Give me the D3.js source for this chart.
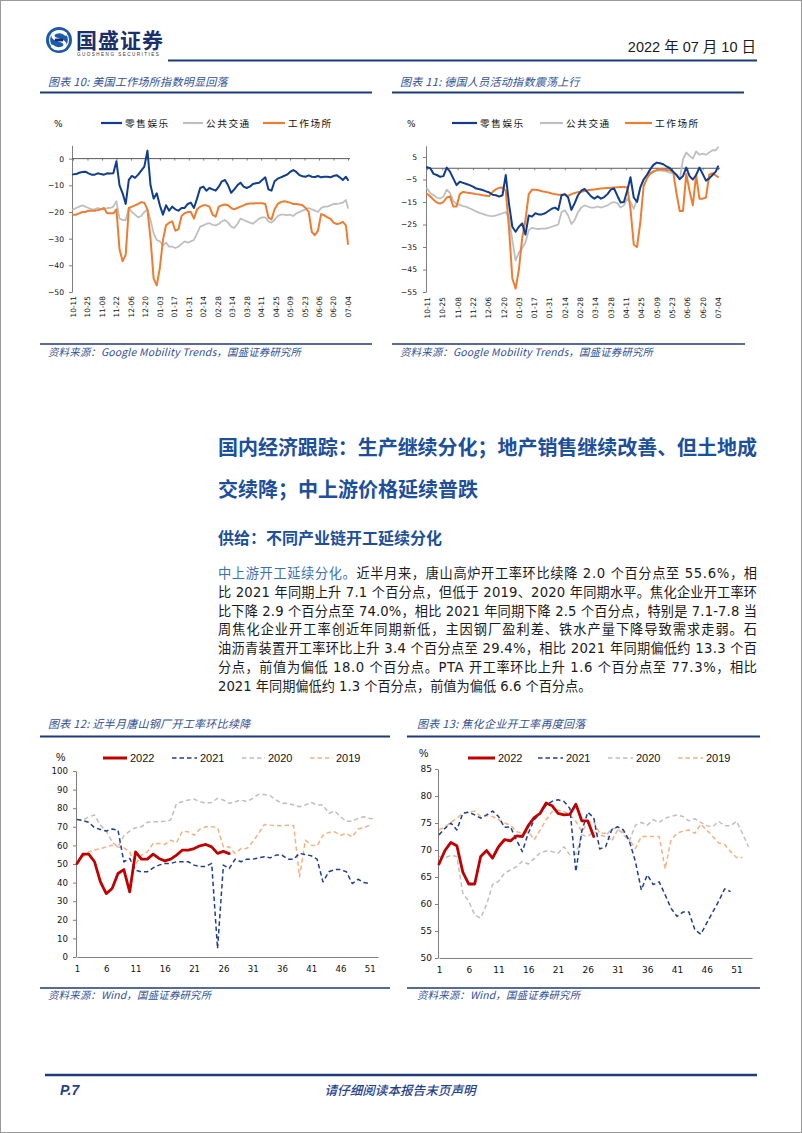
<!DOCTYPE html>
<html><head><meta charset="utf-8">
<script src="https://cdn.jsdelivr.net/npm/d3@7"></script>
<style>
html,body{margin:0;padding:0;background:#fff;}
svg{display:block;}
</style></head><body>
<svg id="page" width="802" height="1133"></svg>
<script>
// ---------------- DATA ----------------
// Google mobility (sampled every 3 days from 2021-10-11, last point 2022-07-04)
const mobilityDays = d3.range(0, 265, 3).concat([266]);
const mobilityTickLabels = ['10-11','10-25','11-08','11-22','12-06','12-20','01-03','01-17','01-31','02-14',
  '02-28','03-14','03-28','04-11','04-25','05-09','05-23','06-06','06-20','07-04'];
const mobilitySeriesNames = ['零售娱乐','公共交通','工作场所'];

const usRetail = [-5.9,-5.8,-5.3,-5.0,-4.9,-5.5,-6.0,-6.0,-5.5,-5.8,
  -6.0,-5.5,-5.6,-5.5,-1.0,-10.0,-13.0,-17.0,-8.0,-6.5,
  -7.2,-6.0,-4.5,-3.0,3.0,-10.0,-15.0,-13.0,-17.5,-21.0,
  -17.5,-19.5,-18.0,-19.0,-19.5,-18.5,-18.5,-17.0,-16.5,-18.5,
  -15.0,-11.0,-10.5,-12.0,-11.0,-11.5,-12.0,-10.5,-8.5,-8.0,
  -10.0,-12.8,-11.5,-10.0,-9.0,-10.5,-11.0,-10.5,-9.5,-9.2,
  -9.0,-8.0,-7.0,-11.5,-12.0,-8.5,-7.5,-7.0,-6.5,-6.0,
  -5.0,-4.3,-5.0,-6.2,-6.6,-6.8,-6.3,-6.8,-6.9,-6.5,
  -7.0,-6.8,-6.8,-7.0,-6.5,-6.2,-7.0,-8.0,-6.8,-8.0];
const usTransit = [-19,-18.5,-18,-17.5,-18,-18.5,-19,-19,-18.5,-19,
  -19,-18.5,-18.5,-18,-16,-22.5,-23,-23,-18.5,-20,
  -21,-22,-21.5,-20,-19,-23,-28,-30.5,-31,-32.5,
  -31.5,-33,-33,-33.5,-33,-32,-31,-31.5,-31,-30.5,
  -28,-25.5,-25,-24.5,-24.2,-24.8,-25,-24.5,-23.5,-23,
  -24,-25.5,-26,-24.5,-22.5,-23,-23.5,-24,-24.4,-23.5,
  -22.5,-22,-22,-23.5,-24,-23,-21.5,-21,-21,-21.2,
  -21,-21.5,-20.5,-20,-19.5,-19,-18.5,-19,-19.5,-20,
  -18.5,-18,-18,-17.5,-17,-17,-16.8,-16.5,-15.5,-18.5];
const usWork = [-21,-21,-20.5,-20,-20,-19.5,-19.5,-19.5,-19.3,-19,
  -18.5,-20.5,-20.5,-20.5,-19,-34,-38.5,-36,-18.5,-18,
  -17.5,-17,-16.3,-16.5,-19,-30,-45,-47.5,-41,-30.5,
  -25,-24,-23.5,-27,-26.5,-21.5,-20.5,-20,-20,-22.5,
  -19,-18,-17.5,-17.5,-18,-21,-21.8,-18,-17.5,-17.2,
  -17.5,-18.5,-19,-18.5,-18,-17.5,-17,-16.8,-16.8,-16.7,
  -16.7,-16.7,-17,-22,-22.8,-19,-17,-16.3,-16,-16.2,
  -16.5,-17,-17,-17.2,-17.5,-18.5,-20,-27.5,-28.7,-27,
  -20.8,-21.2,-22,-22.5,-24,-24.5,-24.3,-23.7,-25,-32];

const deRetail = [0.5,0.0,-2.5,-3.0,-3.8,-3.5,0.3,-1.5,-4.5,-7.5,
  -6.0,-6.5,-7.0,-7.5,-8.2,-9.0,-9.3,-9.7,-10.3,-10.8,
  -11.8,-12.0,-12.6,-12.0,-3.0,-16.0,-26.0,-28.2,-26.0,-24.5,
  -29.5,-21.0,-21.5,-20.0,-20.5,-20.5,-20.0,-19.0,-18.0,-17.5,
  -18.5,-12.0,-11.5,-13.0,-18.5,-15.5,-12.0,-10.0,-9.2,-10.8,
  -12.5,-13.5,-12.5,-13.5,-12.8,-11.5,-9.5,-9.0,-12.2,-15.2,
  -15.0,-10.0,-4.0,-13.0,-15.0,-8.5,-5.0,-3.0,-0.5,1.5,
  2.5,2.2,1.8,0.8,0.0,-1.5,-3.0,-4.8,-3.5,0.3,
  -3.5,-5.0,-3.0,0.3,-2.5,-5.5,-4.5,-3.0,-1.5,0.8];
const deTransit = [-9,-11,-12,-13,-13.5,-12.5,-9.5,-11,-14.5,-15.8,
  -16.3,-16.8,-17.2,-17.8,-18.5,-19.2,-19.8,-20.3,-20.8,-21.2,
  -21.3,-21.0,-20.5,-20,-19.5,-22,-32,-41,-37.5,-35.5,
  -33,-27.5,-26.5,-26.8,-27,-26.8,-26.8,-26.5,-26,-25.5,
  -25,-19.5,-18.7,-21,-24.8,-23,-19.5,-17.5,-16.5,-17,
  -17.5,-17.5,-17,-17.5,-17,-16.5,-15.5,-15,-15.5,-17.5,
  -16.5,-13.5,-15,-18,-14,-8.5,-5,-3,-2,-1.2,
  -1,-1,-1.2,-1.5,-2,-2.2,-2.5,-5,4,7,
  5.5,4.3,7.5,6,6.5,6,7,8,8,9.3];
const deWork = [-11.3,-12.5,-14,-15.2,-15.7,-15,-13,-12.5,-17,-17,
  -11.5,-10.5,-10.8,-11,-11.2,-11.5,-11.7,-12,-12.2,-12.3,
  -10.5,-9.3,-8.7,-8.6,-10,-27,-49,-53.5,-45,-31,
  -23,-11.5,-9.5,-9.6,-9.8,-10.2,-10.5,-10.8,-11.2,-11.5,
  -11.8,-11.8,-11.8,-12.3,-11.5,-11,-10.6,-10.4,-10.1,-9.8,
  -9.6,-9.4,-9.2,-9,-8.9,-8.8,-8.7,-8.5,-8.4,-8.3,
  -8.3,-8.5,-18,-34,-35,-24,-8,-4.5,-2.5,-1.5,
  -0.8,-0.6,-0.6,-0.8,-1,-1.5,-11,-19,-19,-2.5,
  -10,-16.5,-3,-13.5,-13.5,-13,-2.8,-2.2,-3.2,-3.9];

// Weekly operating rates (week 1..)
const weekTicks = [1,6,11,16,21,26,31,36,41,46,51];
const yearNames = ['2022','2021','2020','2019'];

const steel2022 = [50.3,55.3,55.3,51.2,40.4,34.1,36.8,44.9,47,35,56.5,52.6,52.6,55.3,53,51.7,52.6,54.8,57.5,57.5,58.3,59.8,60.5,59.2,55.7,56.8,55.6];
const steel2021 = [74,73.3,72.4,69.5,68.6,67.7,68.8,68.2,51.2,53,46.7,45.8,45.8,47.9,49.4,50.3,50.3,51.2,51.2,51.2,
  49.4,48.7,48.7,50.3,4.5,49.4,47.6,52.6,51.2,52.6,52.6,53.3,53.9,53.3,54.8,54.8,52.6,52.6,55.7,55.1,
  54.4,52.6,40.4,45.8,47,47,45.8,39.5,41.8,40,39.5];
const steel2020 = [73.6,73.6,75.4,76.3,70.9,67.7,61.9,59.2,65.2,67.7,69.5,70,72.4,72.7,72.7,73,73.6,82.6,83.5,84.4,
  84.9,83.5,82.6,83.1,85.3,84.4,82.6,83.5,84.4,83.5,85.3,87.4,87.4,86.7,84.4,82.6,82.6,81.7,80.8,81.7,
  83.1,81.7,81.7,77.2,78.5,75.4,73,73,74.5,75.4,74.5,74.1];
const steel2019 = [50.3,53.9,56.5,57.5,58.3,59.2,60.1,59.2,58.7,56.5,49.7,54.8,56.5,61,61,60.5,62.8,61.6,67.7,67.3,
  65.5,68.8,70,70,69.5,59.2,59.2,55.7,58.3,58.3,61.9,66.4,71.3,70.9,70.6,70.6,70.9,70.6,43.1,62.8,
  60.1,59.8,65.5,67,67.3,65.5,66.4,64.6,68.8,69.5,70.9];

const coke2022 = [67.4,69.9,71.4,70.8,65.9,63.7,63.7,68.8,69.9,68.5,70.6,71.9,71.7,72.6,72.5,74.5,76,76.8,78.7,78.2,76.8,76.5,76.6,78.5,75.4,75.4,72.5];
const coke2021 = [72.8,74,75,73.7,76.8,77,76.5,75.9,76.5,77.2,76.2,74.2,74.3,71.9,69.7,73.1,75.6,76.8,78.3,79,
  79.3,79,77.7,66,73.5,77,76,70.2,70.6,73.7,74.3,73.7,71.6,67.9,62.6,65.4,63.6,64.1,61.7,59.2,
  57.7,58.5,58.5,55.2,54.4,56.5,58.5,60.5,62.8,62.3];
const coke2020 = [68.8,68.5,69,68.8,62,60.5,58,57.4,59.9,63.6,64.2,65.7,66.3,66.9,67.9,67.4,68.4,69.5,69.8,69.7,
  69.4,70.6,69.1,69.2,72.8,72.5,73.4,72.8,72.5,74,74,72.8,71.7,74.6,75.1,74.6,75.6,75.1,75.9,76.2,
  76.5,76.2,75.4,75.8,75.1,74.5,74.3,75.3,74.5,74.5,75.3,73.1,70.6];
const coke2019 = [73.7,74.3,75.1,75.9,76.8,77,77.2,76.2,76.4,76.2,75.6,75,74.6,73.4,73.1,73.4,71.9,73.7,75.6,77.1,
  77.4,77.1,76.5,75.3,73.4,75,75.3,73.1,73.1,71.6,73.7,73.3,71.9,70.3,72.5,72.5,72.5,72.5,66.5,71.9,
  73.1,73.5,73.7,73.1,74.8,73.7,72.5,71.3,71,69.7,68.6,68.6];

// ---------------- STYLE ----------------
const CJK = "'Noto Sans CJK SC', sans-serif";
const TICK = "'DejaVu Sans', sans-serif";
const LAT = "'Liberation Sans', 'Noto Sans CJK SC', sans-serif";
const NAVY = '#1f3a78';
const TITLE_BLUE = '#2f4f94';
const HEAD_BLUE = '#1c4f9c';
const AXIS = '#7f7f7f';

const svg = d3.select('#page');

// page frame
svg.append('rect').attr('x',0.5).attr('y',0.5).attr('width',801).attr('height',1132)
  .attr('fill','none').attr('stroke','#9a9a9a');

// ---------------- HEADER ----------------
const logo = svg.append('g');
logo.append('circle').attr('cx',59).attr('cy',40).attr('r',13).attr('fill','#1d5aae');
logo.append('circle').attr('cx',59).attr('cy',40).attr('r',9.5).attr('fill','none').attr('stroke','#fff').attr('stroke-width',1.2);
logo.append('path').attr('d','M65.5,34 C62,30.5 53,31 53,36 C53,41 65,39 65,44.5 C65,49.5 56,50 52.5,46.5')
  .attr('fill','none').attr('stroke','#fff').attr('stroke-width',3.2).attr('stroke-linecap','round');
logo.append('rect').attr('x',55).attr('y',38.6).attr('width',8).attr('height',2.8).attr('fill','#0f2f6e');
svg.append('text').attr('x',76).attr('y',48).attr('font-family',CJK).attr('font-weight',700)
  .attr('font-size',21).attr('fill','#1b2f6b').attr('letter-spacing',1).text('国盛证券');
svg.append('text').attr('x',77).attr('y',56).attr('font-family',LAT).attr('font-size',4.6)
  .attr('fill','#333').attr('letter-spacing',1.45).text('GUOSHENG SECURITIES');
svg.append('text').attr('x',756).attr('y',52).attr('text-anchor','end').attr('font-family',LAT)
  .attr('font-size',14.5).attr('fill','#1a1a1a').text('2022 年 07 月 10 日');
svg.append('line').attr('x1',168).attr('x2',757).attr('y1',60.5).attr('y2',60.5)
  .attr('stroke',NAVY).attr('stroke-width',2.2);

// ---------------- helpers ----------------
function hline(x1,x2,y,w){
  svg.append('line').attr('x1',x1).attr('x2',x2).attr('y1',y).attr('y2',y).attr('stroke',NAVY).attr('stroke-width',w);
}
function italicText(x,y,size,txt,ls){
  return svg.append('text').attr('x',x).attr('y',y).attr('font-family',CJK).attr('font-size',size)
    .attr('font-style','italic').attr('fill',TITLE_BLUE).attr('letter-spacing',ls||0).text(txt);
}
function drawSeries(g, vals, xv, xs, ys, st){
  g.append('path').datum(vals)
    .attr('d', d3.line().x((d,i)=>xs(xv[i])).y(d=>ys(d)))
    .attr('fill','none').attr('stroke',st.c).attr('stroke-width',st.w)
    .attr('stroke-dasharray',st.dash||null).attr('stroke-linejoin','round').attr('stroke-linecap', st.dash? 'butt':'round');
}
function styleAxisText(sel,size){
  sel.attr('font-family',TICK).attr('font-size',size);
  sel.selectAll('text').attr('fill','#111');
  sel.selectAll('line').attr('stroke',AXIS);
  sel.selectAll('path.domain').attr('stroke',AXIS);
}

// ---------------- MOBILITY CHARTS ----------------
const mobStyles = [
  {c:'#113d8e', w:2.0},
  {c:'#bfbfbf', w:1.8},
  {c:'#ed7d31', w:2.0}
];
function mobilityChart(cfg){
  const g = svg.append('g');
  const x = d3.scaleLinear().domain([0,266]).range(cfg.xr);
  const y = d3.scaleLinear().domain(cfg.yd).range(cfg.yr);
  const ya = g.append('g').attr('transform',`translate(${cfg.ax},0)`)
    .call(d3.axisLeft(y).tickValues(cfg.yt).tickSize(3).tickPadding(cfg.yp).tickSizeOuter(0));
  styleAxisText(ya,7.6);
  const za = g.append('g').attr('transform',`translate(0,${y(0)})`)
    .call(d3.axisBottom(x).tickValues(d3.range(0,267,14)).tickSize(2).tickFormat('').tickSizeOuter(0));
  za.select('path.domain').remove();
  za.selectAll('line').attr('stroke',AXIS);
  g.append('line').attr('x1',cfg.ax).attr('x2',x(266)+2).attr('y1',y(0)).attr('y2',y(0))
    .attr('stroke','#595959').attr('stroke-width',1);
  const la = g.append('g').attr('transform',`translate(0,${cfg.labY})`)
    .call(d3.axisBottom(x).tickValues(d3.range(0,267,14)).tickSize(0).tickFormat((d,i)=>mobilityTickLabels[i]));
  la.select('path.domain').remove();
  la.attr('font-family',TICK).attr('font-size',7.4);
  la.selectAll('text').attr('fill','#111').attr('transform','rotate(-90)')
    .attr('text-anchor','end').attr('x',0).attr('y',0).attr('dy','0.33em');
  drawSeries(g, cfg.series[1], mobilityDays, x, y, mobStyles[1]);
  drawSeries(g, cfg.series[2], mobilityDays, x, y, mobStyles[2]);
  drawSeries(g, cfg.series[0], mobilityDays, x, y, mobStyles[0]);
  g.append('text').attr('x',cfg.pctX).attr('y',cfg.legY+3.5).attr('font-family',TICK).attr('font-size',9)
    .attr('fill','#111').text('%');
  cfg.leg.forEach((L,i)=>{
    g.append('line').attr('x1',L[0]).attr('x2',L[1]).attr('y1',cfg.legY).attr('y2',cfg.legY)
      .attr('stroke',mobStyles[i].c).attr('stroke-width',2.2);
    g.append('text').attr('x',L[1]+3).attr('y',cfg.legY+3.7).attr('font-family',CJK).attr('font-size',9.6)
      .attr('letter-spacing',1.6).attr('fill','#111').text(mobilitySeriesNames[i]);
  });
}

italicText(48,86,11,'图表 10:  美国工作场所指数明显回落',0.3);
hline(40,372,92.5,2);
italicText(400,86,11,'图表 11:  德国人员活动指数震荡上行',0.3);
hline(392,744,92.5,2);

mobilityChart({xr:[73,348], ax:72, yd:[-50,5], yr:[292,145.3], yt:[0,-10,-20,-30,-40,-50], yp:5,
  labY:296, legY:123, pctX:54, leg:[[101,122],[183,203],[263,285]], series:[usRetail,usTransit,usWork]});
mobilityChart({xr:[427,718], ax:426, yd:[-55,10], yr:[292,145.75], yt:[5,-5,-15,-25,-35,-45,-55], yp:6,
  labY:297, legY:123, pctX:407, leg:[[452,477],[540,563],[625,652]], series:[deRetail,deTransit,deWork]});

hline(40,372,344,1.4);
hline(392,745,344,1.4);
italicText(48,356,10.4,'资料来源：Google Mobility Trends，国盛证券研究所',0.2);
italicText(400,356,10.4,'资料来源：Google Mobility Trends，国盛证券研究所',0.2);

// ---------------- TEXT SECTION ----------------
svg.append('text').attr('x',218).attr('y',455).attr('font-family',CJK).attr('font-weight',700)
  .attr('font-size',20).attr('fill',HEAD_BLUE).attr('textLength',539).attr('lengthAdjust','spacing')
  .text('国内经济跟踪：生产继续分化；地产销售继续改善、但土地成');
svg.append('text').attr('x',218).attr('y',497).attr('font-family',CJK).attr('font-weight',700)
  .attr('font-size',20).attr('fill',HEAD_BLUE).text('交续降；中上游价格延续普跌');
svg.append('text').attr('x',218).attr('y',543.5).attr('font-family',CJK).attr('font-weight',700)
  .attr('font-size',16).attr('fill',HEAD_BLUE).text('供给：不同产业链开工延续分化');

const bodyLines = [
  ['中上游开工延续分化。','近半月来，唐山高炉开工率环比续降 2.0 个百分点至 55.6%，相'],
  ['','比 2021 年同期上升 7.1 个百分点，但低于 2019、2020 年同期水平。焦化企业开工率环'],
  ['','比下降 2.9 个百分点至 74.0%，相比 2021 年同期下降 2.5 个百分点，特别是 7.1-7.8 当'],
  ['','周焦化企业开工率创近年同期新低，主因钢厂盈利差、铁水产量下降导致需求走弱。石'],
  ['','油沥青装置开工率环比上升 3.4 个百分点至 29.4%，相比 2021 年同期偏低约 13.3 个百'],
  ['','分点，前值为偏低 18.0 个百分点。PTA 开工率环比上升 1.6 个百分点至 77.3%，相比'],
  ['','2021 年同期偏低约 1.3 个百分点，前值为偏低 6.6 个百分点。']
];
bodyLines.forEach((L,i)=>{
  const t = svg.append('text').attr('x',218).attr('y',578 + i*18.8)
    .attr('font-family',"'DejaVu Sans','Noto Sans CJK SC',sans-serif").attr('font-size',13.2).attr('fill','#1a1a1a');
  if(i < bodyLines.length-1) t.attr('textLength',539).attr('lengthAdjust','spacing');
  if(L[0]) t.append('tspan').attr('fill','#3b6fb6').text(L[0]);
  t.append('tspan').text(L[1]);
});

// ---------------- WEEKLY CHARTS ----------------
const yearStyles = {
  '2022':{c:'#c00000', w:2.8},
  '2021':{c:'#1f3f8f', w:1.5, dash:'4.5,3'},
  '2020':{c:'#bfbfbf', w:1.5, dash:'4.5,3'},
  '2019':{c:'#f4b183', w:1.5, dash:'4.5,3'}
};
function weeklyChart(cfg){
  const g = svg.append('g');
  const x = d3.scaleLinear().domain(cfg.xd).range(cfg.xr);
  const y = d3.scaleLinear().domain(cfg.yd).range(cfg.yr);
  const ya = g.append('g').attr('transform',`translate(${cfg.xr[0]-1},0)`)
    .call(d3.axisLeft(y).tickValues(cfg.yt).tickSize(3).tickPadding(cfg.yp).tickSizeOuter(0));
  styleAxisText(ya,cfg.fs);
  const xa = g.append('g').attr('transform',`translate(0,${y(cfg.yd[0])})`)
    .call(d3.axisBottom(x).tickValues(weekTicks).tickSize(0).tickPadding(9).tickSizeOuter(0));
  styleAxisText(xa,cfg.fs);
  const order = ['2020','2019','2021','2022'];
  order.forEach(k=>{
    const vals = cfg.series[k];
    drawSeries(g, vals, d3.range(1, vals.length+1), x, y, yearStyles[k]);
  });
  g.append('text').attr('x',cfg.pctX).attr('y',cfg.pctY).attr('font-family',LAT).attr('font-size',10.5)
    .attr('fill','#111').text('%');
  yearNames.forEach((k,i)=>{
    const L = cfg.leg[i];
    g.append('line').attr('x1',L[0]).attr('x2',L[1]).attr('y1',cfg.legY).attr('y2',cfg.legY)
      .attr('stroke',yearStyles[k].c).attr('stroke-width',k==='2022'?3:1.6)
      .attr('stroke-dasharray',yearStyles[k].dash||null);
    g.append('text').attr('x',L[1]+3).attr('y',cfg.legY+4).attr('font-family',LAT).attr('font-size',11)
      .attr('fill','#111').text(k);
  });
}

italicText(48,728,11,'图表 12:  近半月唐山钢厂开工率环比续降',0.3);
hline(40,390,736.5,2);
italicText(417,728,11,'图表 13:  焦化企业开工率再度回落',0.3);
hline(407,760,736.5,2);

weeklyChart({xd:[1,52.4], xr:[77,378], yd:[0,100], yr:[957,771], yt:d3.range(0,101,10), yp:5, fs:8.6,
  pctX:56, pctY:761, legY:758, leg:[[103,127],[172,197],[242,265],[310,333]],
  series:{'2022':steel2022,'2021':steel2021,'2020':steel2020,'2019':steel2019}});
weeklyChart({xd:[1,53.6], xr:[439,752], yd:[50,85], yr:[958,769], yt:d3.range(50,86,5), yp:3, fs:9,
  pctX:419, pctY:757, legY:758, leg:[[468,495],[538,563],[608,633],[678,703]],
  series:{'2022':coke2022,'2021':coke2021,'2020':coke2020,'2019':coke2019}});

hline(40,390,988,1.4);
hline(407,760,988,1.4);
italicText(48,999,10.4,'资料来源：Wind，国盛证券研究所',0.2);
italicText(417,999,10.4,'资料来源：Wind，国盛证券研究所',0.2);

// ---------------- FOOTER ----------------
hline(45,757,1075,2.6);
svg.append('text').attr('x',60).attr('y',1095).attr('font-family',LAT).attr('font-weight',700)
  .attr('font-style','italic').attr('font-size',14).attr('fill','#1f3f8f').text('P.7');
svg.append('text').attr('x',400).attr('y',1095).attr('text-anchor','middle').attr('font-family',CJK)
  .attr('font-style','italic').attr('font-weight',500).attr('font-size',12.6).attr('fill','#1f3f8f')
  .text('请仔细阅读本报告末页声明');
</script>
</body></html>
